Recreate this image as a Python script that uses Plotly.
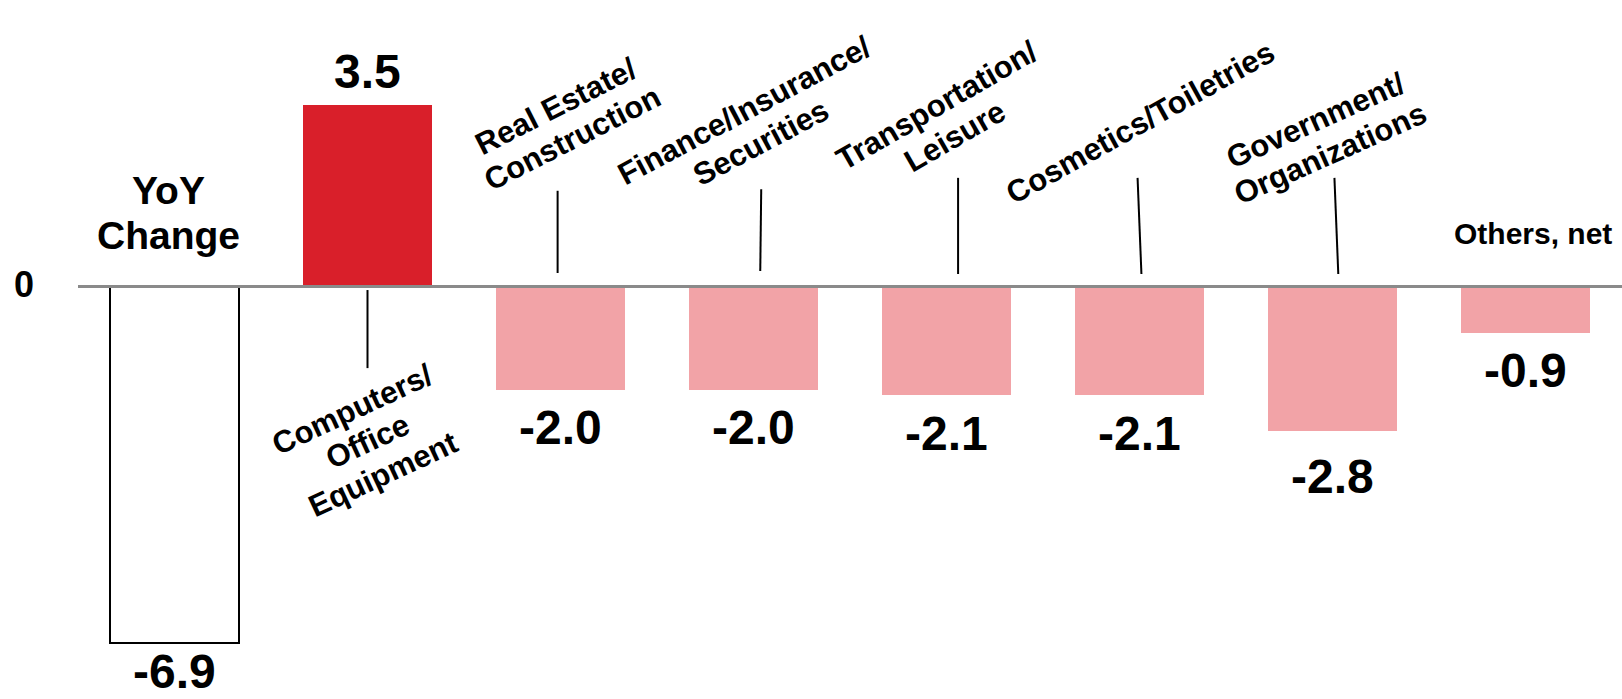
import math
import plotly.graph_objects as go

# ---- data ----
categories = ["YoY Change", "Computers/Office Equipment", "Real Estate/Construction",
              "Finance/Insurance/Securities", "Transportation/Leisure",
              "Cosmetics/Toiletries", "Government/Organizations", "Others, net"]
values = [-6.9, 3.5, -2.0, -2.0, -2.1, -2.1, -2.8, -0.9]
value_labels = ["-6.9", "3.5", "-2.0", "-2.0", "-2.1", "-2.1", "-2.8", "-0.9"]
label_lines = [
    ["YoY", "Change"],
    ["Computers/", "Office", "Equipment"],
    ["Real Estate/", "Construction"],
    ["Finance/Insurance/", "Securities"],
    ["Transportation/", "Leisure"],
    ["Cosmetics/Toiletries"],
    ["Government/", "Organizations"],
    ["Others, net"],
]

# ---- styling ----
FONT = "Liberation Sans, Arial, sans-serif"
RED = "#D91F2A"
PINK = "#F2A3A7"
fill_colors = ["white", RED] + [PINK] * 6
line_widths = [2, 0, 0, 0, 0, 0, 0, 0]
value_label_shift = [-28, 34, -38, -38, -38, -38, -45, -38]

x = list(range(len(categories)))

fig = go.Figure()
fig.add_trace(go.Bar(
    x=x, y=values, width=0.67,
    marker=dict(color=fill_colors, line=dict(color="black", width=line_widths)),
    hoverinfo="skip", showlegend=False,
))

annotations = []
# value labels
for i, (v, t) in enumerate(zip(values, value_labels)):
    annotations.append(dict(
        x=i, y=v, xref="x", yref="y", text=f"<b>{t}</b>", showarrow=False,
        xanchor="center", yanchor="middle", yshift=value_label_shift[i],
        font=dict(family=FONT, size=48, color="black")))

# rotated category labels: (category index, x offset, y center in data units, angle deg, extra px shift down)
LINE_GAP = 36  # px between rotated lines
label_pos = [
    (1, 0.0, -2.93, 25, 4),
    (2, 0.018, 3.38, 27, 11),
    (3, -0.004, 3.28, 28, 10),
    (4, -0.005, 3.31, 30, 6),
    (5, 0.006, 3.30, 29, 7),
    (6, -0.05, 3.08, 24, 10),
]
for idx, dx, yc, ang, down in label_pos:
    lines = label_lines[idx]
    n = len(lines)
    s, c = math.sin(math.radians(ang)), math.cos(math.radians(ang))
    for k, line in enumerate(lines):
        d = (k - (n - 1) / 2) * LINE_GAP
        annotations.append(dict(
            x=idx + dx, y=yc, xref="x", yref="y", text=f"<b>{line}</b>",
            showarrow=False, textangle=-ang, xanchor="center", yanchor="middle",
            xshift=d * s, yshift=-d * c - down,
            font=dict(family=FONT, size=31, color="black")))

# horizontal labels
annotations.append(dict(x=7.04, y=1.03, xref="x", yref="y", text=f"<b>{label_lines[7][0]}</b>",
                        showarrow=False, xanchor="center", yanchor="middle",
                        font=dict(family=FONT, size=30, color="black")))
annotations.append(dict(x=-0.03, y=1.86, xref="x", yref="y", text=f"<b>{label_lines[0][0]}</b>",
                        showarrow=False, xanchor="center", yanchor="middle",
                        font=dict(family=FONT, size=39, color="black")))
annotations.append(dict(x=-0.03, y=0.98, xref="x", yref="y", text=f"<b>{label_lines[0][1]}</b>",
                        showarrow=False, xanchor="center", yanchor="middle",
                        font=dict(family=FONT, size=39, color="black")))
# zero label
annotations.append(dict(x=0, y=0, xref="paper", yref="y", text="<b>0</b>",
                        showarrow=False, xanchor="right", yanchor="middle",
                        xshift=-42, yshift=2,
                        font=dict(family=FONT, size=36, color="black")))

shapes = []
# zero line
shapes.append(dict(type="line", xref="paper", yref="y", x0=0, x1=1, y0=0, y1=0,
                   line=dict(color="#8a8a8a", width=3), layer="above"))
# leader lines (category index, x offset top, x offset bottom, y top, y bottom)
leaders = [
    (1, 0.0, 0.0, -0.07, -1.58),
    (2, -0.015, -0.015, 1.85, 0.26),
    (3, 0.04, 0.035, 1.88, 0.30),
    (4, 0.06, 0.06, 2.10, 0.24),
    (5, -0.01, 0.01, 2.10, 0.24),
    (6, 0.01, 0.03, 2.10, 0.24),
]
for idx, ox0, ox1, y0, y1 in leaders:
    shapes.append(dict(type="line", xref="x", yref="y", x0=idx + ox0, x1=idx + ox1,
                       y0=y0, y1=y1, line=dict(color="black", width=2)))

fig.update_layout(
    width=1622, height=699,
    margin=dict(l=78, r=0, t=0, b=0),
    paper_bgcolor="white", plot_bgcolor="white",
    xaxis=dict(range=[-0.5, 7.5], visible=False, fixedrange=True),
    yaxis=dict(range=[-7.98, 5.54], visible=False, fixedrange=True),
    annotations=annotations, shapes=shapes, bargap=0,
)

fig.write_html("out.html", config={"displayModeBar": False})
